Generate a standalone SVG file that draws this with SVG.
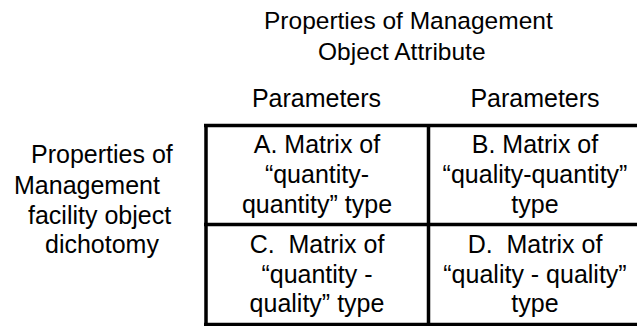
<svg xmlns="http://www.w3.org/2000/svg" width="637" height="326" viewBox="0 0 637 326">
<style>
text{font-family:"Liberation Sans",Arial,sans-serif;fill:#000;font-size:25px;white-space:pre}
.m{text-anchor:middle}
.t{font-size:24.5px}
.b{fill:none;stroke:#000;stroke-width:3.5}
</style>
<rect width="637" height="326" fill="#fff"/>
<g id="title">
<text class="t" x="264" y="29">Properties of Management</text>
<text class="t" x="318" y="60">Object Attribute</text>
</g>
<g id="param1"><text class="m" x="316.5" y="107">Parameters</text></g>
<g id="param2"><text class="m" x="535" y="107">Parameters</text></g>
<g id="rowlabel">
<text x="31" y="163">Properties of</text>
<text x="14" y="194">Management</text>
<text x="28" y="224">facility object</text>
<text x="45" y="253">dichotomy</text>
</g>
<g id="connectors">
<path class="b" d="M204 125.5H640M204 224.5H640M204 324.5H640M206 124V326M428.5 124V326"/>
</g>
<g id="cellA">
<text class="m" x="317" y="153">A. Matrix of</text>
<text class="m" x="317" y="183">“quantity-</text>
<text class="m" x="317" y="213">quantity” type</text>
</g>
<g id="cellB">
<text class="m" x="535" y="153">B. Matrix of</text>
<text class="m" x="535" y="183">“quality-quantity”</text>
<text class="m" x="535" y="213">type</text>
</g>
<g id="cellC">
<text class="m" x="317" y="253">C.  Matrix of</text>
<text class="m" x="317" y="283">“quantity -</text>
<text class="m" x="317" y="312">quality” type</text>
</g>
<g id="cellD">
<text class="m" x="535" y="253">D.  Matrix of</text>
<text class="m" x="535" y="283">“quality - quality”</text>
<text class="m" x="535" y="312">type</text>
</g>
</svg>
